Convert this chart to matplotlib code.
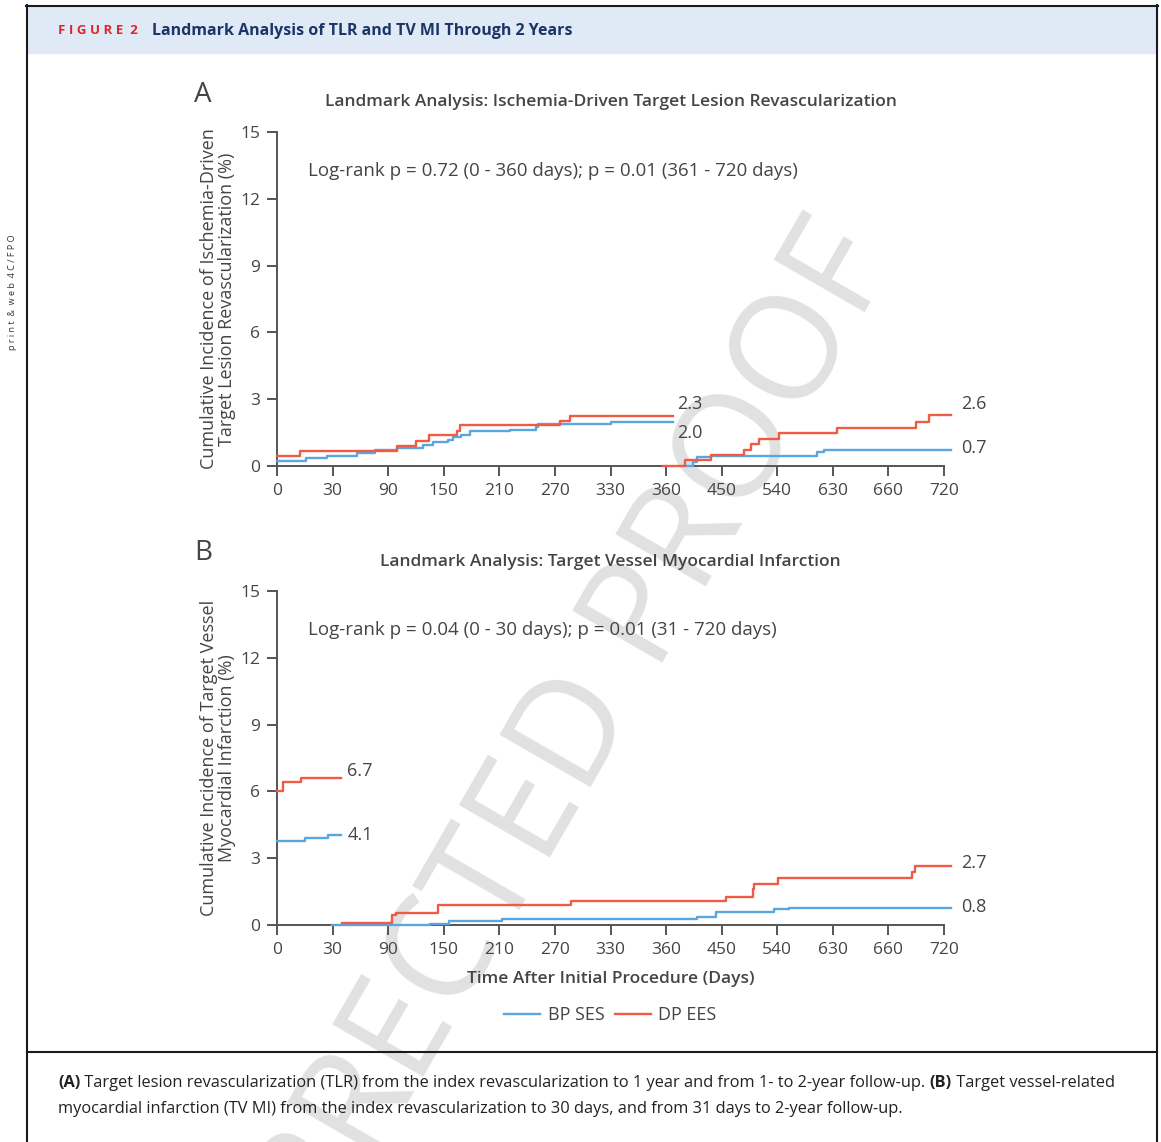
import numpy as np
import matplotlib.pyplot as plt
from matplotlib.patches import Rectangle
from matplotlib.lines import Line2D

plt.rcParams['font.family'] = ['Open Sans', 'DejaVu Sans']

BLUE = '#5AA6DE'
RED = '#EF5B45'
GREY = '#454545'

# x positions are axis units: one tick every 60 units, labels as printed on the figure
x_tick_labels = ['0', '30', '90', '150', '210', '270', '330', '360', '450', '540', '630', '660', '720']

# Panel A: ischemia-driven TLR, landmark at 1 year
a_ses_x1 = [0, 31, 54, 86, 106, 129, 158, 168, 185, 190, 199, 208, 252, 280, 282, 361, 427]
a_ses_y1 = [0.21, 0.36, 0.43, 0.58, 0.74, 0.82, 0.95, 1.07, 1.19, 1.29, 1.40, 1.55, 1.62, 1.77, 1.89, 1.98, 1.98]
a_ees_x1 = [0, 25, 129, 150, 164, 194, 198, 306, 316, 427]
a_ees_y1 = [0.47, 0.67, 0.92, 1.13, 1.37, 1.59, 1.83, 2.02, 2.26, 2.26]
a_ses_x2 = [442, 449, 453, 469, 583, 591, 728]
a_ses_y2 = [0.0, 0.18, 0.39, 0.45, 0.62, 0.73, 0.73]
a_ees_x2 = [417, 440, 469, 504, 512, 520, 542, 605, 690, 704, 728]
a_ees_y2 = [0.0, 0.25, 0.50, 0.73, 1.00, 1.22, 1.47, 1.71, 1.99, 2.30, 2.30]
a_end_labels = ['2.3', '2.0', '2.6', '0.7']
a_label_pos = [(432, 2.78), (432, 1.48), (739, 2.78), (739, 0.81)]

# Panel B: TV MI, landmark at 30 days
b_ses_x1 = [0, 30, 55, 69]
b_ses_y1 = [3.76, 3.91, 4.03, 4.03]
b_ees_x1 = [0, 7, 26, 69]
b_ees_y1 = [6.00, 6.40, 6.60, 6.60]
b_ses_x2 = [59, 165, 186, 243, 453, 474, 537, 553, 728]
b_ses_y2 = [0.0, 0.05, 0.18, 0.27, 0.38, 0.57, 0.70, 0.78, 0.78]
b_ees_x2 = [70, 124, 128, 174, 317, 485, 514, 515, 541, 685, 689, 728]
b_ees_y2 = [0.11, 0.44, 0.56, 0.89, 1.07, 1.27, 1.61, 1.84, 2.12, 2.36, 2.66, 2.66]
b_end_labels = ['6.7', '4.1', '2.7', '0.8']
b_label_pos = [(76, 6.92), (76, 4.04), (739, 2.78), (739, 0.81)]

W, H = 1161, 1142
fig = plt.figure(figsize=(W / 100, H / 100), dpi=100)

# background layer: frame, header, watermark, caption
bg = fig.add_axes([0, 0, 1, 1], zorder=-1)
bg.set_xlim(0, W)
bg.set_ylim(H, 0)
bg.axis('off')
bg.add_patch(Rectangle((27, 7), 1130, 46, color='#DFEAF6', zorder=1))
for xs, ys in [([27, 27], [5, H]), ([1157, 1157], [5, H]), ([26, 1158], [6, 6]), ([27, 1157], [1052, 1052])]:
    bg.plot(xs, ys, color='#1a1a1a', lw=1.5, zorder=2)
bg.text(527, 822, 'CORRECTED PROOF', rotation=60, rotation_mode='anchor', ha='center', va='center',
        fontsize=105, color='#E1E1E1', zorder=0)
bg.text(58, 31, 'F I G U R E  2', color='#E0252B', fontsize=9.5, weight='bold', va='center', zorder=3)
bg.text(152, 31, 'Landmark Analysis of TLR and TV MI Through 2 Years', color='#1B3567',
        fontsize=11.5, weight='bold', va='center', zorder=3)
bg.text(13, 292, 'p r i n t  &  w e b  4 C / F P O', rotation=90, fontsize=6.5, color='#333333',
        ha='center', va='center')

cfs = 11.75
cap1 = bg.text(58, 1083, '(A)', fontsize=cfs, weight='bold', va='center', color='#222222')
cap2 = bg.annotate(' Target lesion revascularization (TLR) from the index revascularization to 1 year and from 1- to 2-year follow-up. ',
                   xy=(1, 0), xycoords=cap1, va='bottom', fontsize=cfs, color='#222222')
cap3 = bg.annotate('(B)', xy=(1, 0), xycoords=cap2, va='bottom', fontsize=cfs, weight='bold', color='#222222')
bg.annotate(' Target vessel-related', xy=(1, 0), xycoords=cap3, va='bottom', fontsize=cfs, color='#222222')
bg.text(58, 1109, 'myocardial infarction (TV MI) from the index revascularization to 30 days, and from 31 days to 2-year follow-up.',
        fontsize=cfs, va='center', color='#222222')

axA = fig.add_axes([277 / W, 1 - 466 / H, 667 / W, 334 / H])
axB = fig.add_axes([277 / W, 1 - 925 / H, 667 / W, 334 / H])


def style(ax):
    ax.patch.set_alpha(0)
    for s in ['top', 'right']:
        ax.spines[s].set_visible(False)
    for s in ['left', 'bottom']:
        ax.spines[s].set_color('#555555')
        ax.spines[s].set_linewidth(1.4)
    ax.set_xlim(0, 720)
    ax.set_ylim(0, 15)
    ax.set_xticks(np.arange(0, 721, 60))
    ax.set_xticklabels(x_tick_labels)
    ax.set_yticks(np.arange(0, 16, 3))
    ax.tick_params(length=7, width=1.4, color='#555555', labelsize=12.5, labelcolor=GREY, pad=5)


def curves(ax, segs, labels, label_pos):
    for x, y, c in segs:
        ax.step(x, y, where='post', color=c, lw=1.7, clip_on=False, zorder=3)
    for lab, (lx, ly) in zip(labels, label_pos):
        ax.text(lx, ly, lab, fontsize=13, color=GREY, va='center', ha='left', clip_on=False)


style(axA)
curves(axA, [(a_ses_x1, a_ses_y1, BLUE), (a_ees_x1, a_ees_y1, RED),
             (a_ses_x2, a_ses_y2, BLUE), (a_ees_x2, a_ees_y2, RED)], a_end_labels, a_label_pos)
axA.set_ylabel('Cumulative Incidence of Ischemia-Driven\nTarget Lesion Revascularization (%)',
               fontsize=13, color=GREY, linespacing=1.0)
axA.yaxis.set_label_coords(-0.062, 0.5)
axA.text(0.5, 1.09, 'Landmark Analysis: Ischemia-Driven Target Lesion Revascularization',
         transform=axA.transAxes, ha='center', va='center', fontsize=12.5, weight='semibold', color=GREY)
axA.text(-0.111, 1.111, 'A', transform=axA.transAxes, ha='center', va='center', fontsize=20, color=GREY)
axA.text(0.0465, 0.883, 'Log-rank p = 0.72 (0 - 360 days); p = 0.01 (361 - 720 days)',
         transform=axA.transAxes, ha='left', va='center', fontsize=13.5, color=GREY)

style(axB)
curves(axB, [(b_ses_x1, b_ses_y1, BLUE), (b_ees_x1, b_ees_y1, RED),
             (b_ses_x2, b_ses_y2, BLUE), (b_ees_x2, b_ees_y2, RED)], b_end_labels, b_label_pos)
axB.set_ylabel('Cumulative Incidence of Target Vessel\nMyocardial Infarction (%)',
               fontsize=13, color=GREY, linespacing=1.0)
axB.yaxis.set_label_coords(-0.062, 0.5)
axB.text(0.5, 1.087, 'Landmark Analysis: Target Vessel Myocardial Infarction',
         transform=axB.transAxes, ha='center', va='center', fontsize=12.5, weight='semibold', color=GREY)
axB.text(-0.111, 1.114, 'B', transform=axB.transAxes, ha='center', va='center', fontsize=20, color=GREY)
axB.text(0.0465, 0.883, 'Log-rank p = 0.04 (0 - 30 days); p = 0.01 (31 - 720 days)',
         transform=axB.transAxes, ha='left', va='center', fontsize=13.5, color=GREY)
axB.text(0.5, -0.162, 'Time After Initial Procedure (Days)', transform=axB.transAxes,
         ha='center', va='center', fontsize=12.5, weight='semibold', color=GREY)

handles = [Line2D([], [], color=BLUE, lw=1.7), Line2D([], [], color=RED, lw=1.7)]
axB.legend(handles, ['BP SES', 'DP EES'], loc='center', bbox_to_anchor=(0.5, -0.269), ncol=2,
           frameon=False, fontsize=13, handlelength=2.0, handletextpad=0.4, columnspacing=0.6,
           labelcolor=GREY)

fig.savefig('out.png', dpi=100)
